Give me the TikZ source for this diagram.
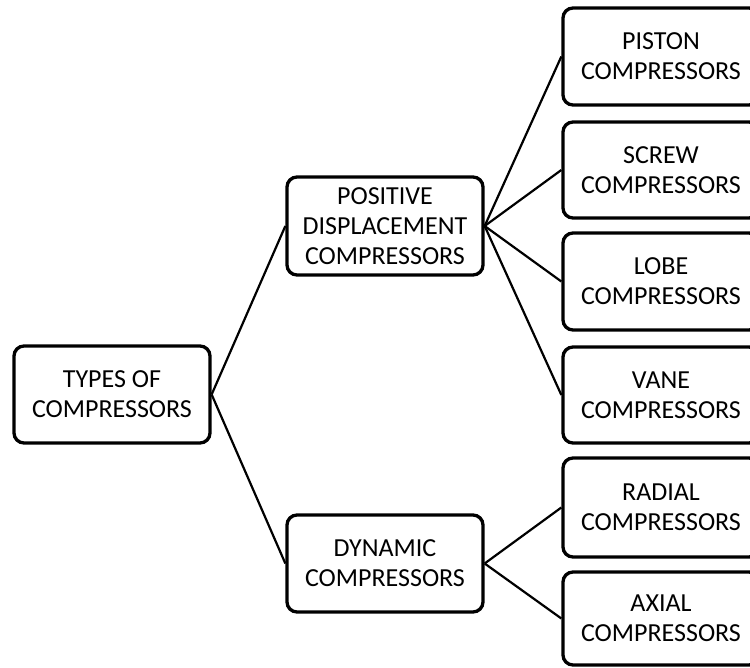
\documentclass[tikz,border=0pt]{standalone}
\usepackage{fontspec}
\setmainfont{Carlito}
\begin{document}
\begin{tikzpicture}[x=1pt,y=-1pt,
  box/.style={draw=black,line width=3.3pt,rounded corners=10pt,fill=white,
    align=center,inner sep=0pt,font=\fontsize{26}{30}\selectfont},
  conn/.style={draw=black,line width=2.2pt}]
\useasboundingbox (0,0) rectangle (750,668);
\begin{scope}
\clip (0,0) rectangle (750,668);
\node[box,minimum width=196pt,minimum height=97pt] (root) at (112,394.5) {TYPES OF\\COMPRESSORS};
\node[box,minimum width=196pt,minimum height=98pt] (pd) at (385,226) {POSITIVE\\DISPLACEMENT\\COMPRESSORS};
\node[box,minimum width=196pt,minimum height=97pt] (dyn) at (385,563.5) {DYNAMIC\\COMPRESSORS};
\node[box,minimum width=196pt,minimum height=97pt] (piston) at (661,56.5) {PISTON\\COMPRESSORS};
\node[box,minimum width=196pt,minimum height=96pt] (screw) at (661,170) {SCREW\\COMPRESSORS};
\node[box,minimum width=196pt,minimum height=97pt] (lobe) at (661,281.5) {LOBE\\COMPRESSORS};
\node[box,minimum width=196pt,minimum height=96pt] (vane) at (661,395) {VANE\\COMPRESSORS};
\node[box,minimum width=196pt,minimum height=99pt] (radial) at (661,507.5) {RADIAL\\COMPRESSORS};
\node[box,minimum width=196pt,minimum height=93pt] (axial) at (661,618.5) {AXIAL\\COMPRESSORS};
\begin{scope}[on background layer/.try]
\end{scope}
\draw[conn] (root.east) -- (pd.west);
\draw[conn] (root.east) -- (dyn.west);
\draw[conn] (pd.east) -- (piston.west);
\draw[conn] (pd.east) -- (screw.west);
\draw[conn] (pd.east) -- (lobe.west);
\draw[conn] (pd.east) -- (vane.west);
\draw[conn] (dyn.east) -- (radial.west);
\draw[conn] (dyn.east) -- (axial.west);
\end{scope}
\end{tikzpicture}
\end{document}
